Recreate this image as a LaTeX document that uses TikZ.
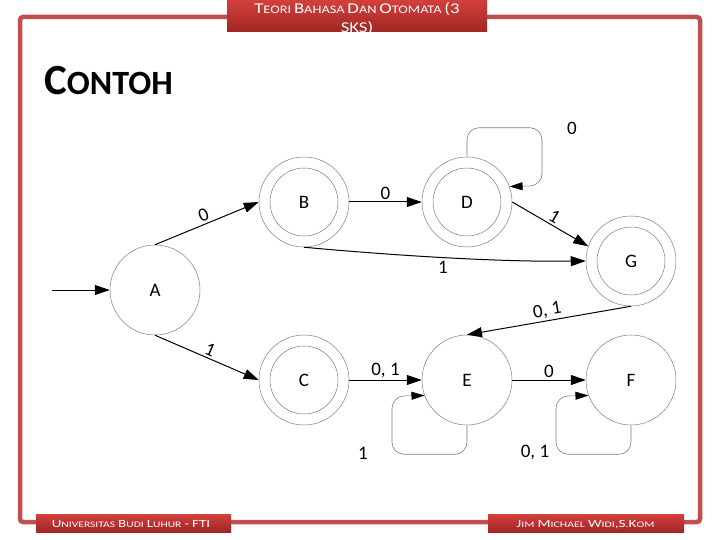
\documentclass[tikz,border=0pt]{standalone}
\usepackage{fontspec}
\usepackage{graphicx}
\setmainfont{Carlito}
\usetikzlibrary{arrows.meta}
\definecolor{framered}{RGB}{192,80,77}
\definecolor{boxtop}{RGB}{210,64,60}
\definecolor{boxbot}{RGB}{160,38,36}
\definecolor{stategray}{RGB}{125,125,125}
\newcommand\capsw[4]{{\fontsize{#1}{18}\selectfont #3}{\fontsize{#2}{18}\selectfont #4}}
\newcommand\ttl[2]{\capsw{15}{11.5}{#1}{#2}}
\newcommand\ftr[2]{\capsw{11}{8.5}{#1}{#2}}
\begin{document}
\begin{tikzpicture}[x=1pt,y=-1pt,
  st/.style={circle,draw=stategray,line width=0.5pt,minimum size=90pt,inner sep=0pt,font=\fontsize{19}{19}\selectfont},
  innerc/.style={draw=stategray,line width=0.5pt},
  edge/.style={draw=black,line width=1pt,-{Triangle[length=15pt,width=10pt]}},
  loopst/.style={draw=stategray,line width=0.6pt,rounded corners=12pt,-{Triangle[length=13pt,width=8pt,color=black]}},
  lbl/.style={font=\fontsize{19}{19}\selectfont,inner sep=2pt},
  redbox/.style={top color=boxtop,bottom color=boxbot,draw=none},
  boxtext/.style={text=white,inner sep=0pt},
]
\useasboundingbox (0,0) rectangle (720,540);
% frame
\draw[framered,line width=4.5pt,rounded corners=3pt] (20,17) rectangle (700,522);
% title box
\fill[redbox] (227,0) rectangle (487,32);
\begin{scope}
  \clip (227,0) rectangle (487,32);
  \node[boxtext,anchor=base] (title1) at (357,13.5) {\scalebox{1.25}[1]{\ttl{T}{EORI} \ttl{B}{AHASA} \ttl{D}{AN} \ttl{O}{TOMATA} {\fontsize{15}{18}\selectfont (3}}};
  \node[boxtext,anchor=base] (title2) at (357,32.5) {\scalebox{1.25}[1]{\fontsize{15}{18}\selectfont SKS)}};
\end{scope}
% footer boxes
\fill[redbox] (36,514) rectangle (231,532);
\node[boxtext,anchor=base] (foot1) at (131,527.5) {\scalebox{1.36}[1]{\ftr{U}{NIVERSITAS} \ftr{B}{UDI} \ftr{L}{UHUR} \ftr{-}{} \ftr{FTI}{}}};
\fill[redbox] (488,514) rectangle (684,532);
\node[boxtext,anchor=base] (foot2) at (585.5,527.5) {\scalebox{1.39}[1]{\ftr{J}{IM} \ftr{M}{ICHAEL} \ftr{W}{IDI}\ftr{,}{}\ftr{S}{.}\ftr{K}{OM}}};
% heading
\node[anchor=base west,inner sep=0pt,font=\bfseries] (contoh) at (44,94.5) {\capsw{43}{34}{C}{ONTOH}};
% states
\node[st] (A) at (155,290) {A};
\node[st] (B) at (304,202) {B};
\node[st] (D) at (467,202) {D};
\node[st] (G) at (631,261) {G};
\node[st] (C) at (304,380) {C};
\node[st] (E) at (467,380) {E};
\node[st] (F) at (631,380) {F};
\draw[innerc] (B.center) circle (34pt);
\draw[innerc] (D.center) circle (34pt);
\draw[innerc] (G.center) circle (34pt);
\draw[innerc] (C.center) circle (34pt);
% start
\coordinate (start) at (52,290);
\draw[edge] (start) -- (A.west);
% transitions
\draw[edge] (A.north) -- node[lbl,midway,above,sloped] (l1) {0} (B.west);
\draw[edge] (A.south) -- node[lbl,midway,above,sloped] (l2) {1} (C.west);
\draw[edge] (B.east) -- node[lbl,midway,above] (l3) {0} (D.west);
\draw[edge] (D.east) -- node[lbl,midway,above,sloped] (l4) {1} (G.161);
\draw[edge] (B.south) .. controls (400,256) and (500,262) .. node[lbl,pos=0.48,below=1pt] (l5) {1} (G.west);
\draw[edge] (G.south) -- node[lbl,midway,above,sloped] (l6) {0, 1} (E.north);
\draw[edge] (C.east) -- node[lbl,midway,above] (l7) {0, 1} (E.west);
\draw[edge] (E.east) -- node[lbl,midway,above] (l8) {0} (F.west);
% loops
\draw[loopst] (D.north) -- ++(0,-29) -- ++(75,0) -- ++(0,58) -- (D.20);
\node[lbl] (l9) at (572,128) {0};
\draw[loopst] (E.south) -- ++(0,29) -- ++(-75,0) -- ++(0,-58) -- (E.200);
\node[lbl] (l10) at (363,453) {1};
\draw[loopst] (F.south) -- ++(0,29) -- ++(-75,0) -- ++(0,-58) -- (F.200);
\node[lbl] (l11) at (535,453) {0, 1};
\end{tikzpicture}
\end{document}
